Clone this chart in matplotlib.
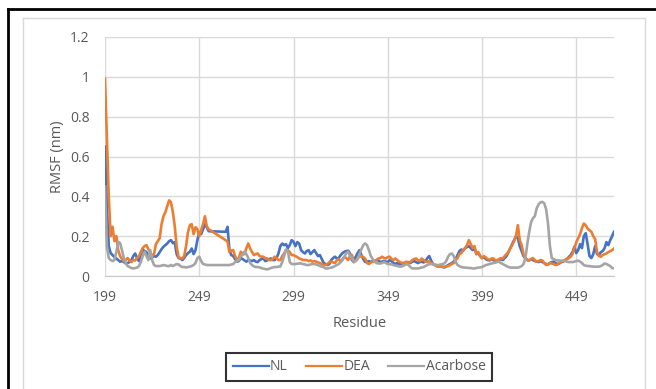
import matplotlib.pyplot as plt
from matplotlib.lines import Line2D

# residues 255-262 have no RMSF values, the lines just jump across
residues = list(range(199, 255)) + list(range(263, 470))

nl = [
    0.65, 0.35, 0.15, 0.115, 0.105, 0.095, 0.088, 0.08, 0.072, 0.075,
    0.07, 0.063, 0.065, 0.07, 0.08, 0.1, 0.113, 0.09, 0.075, 0.11,
    0.133, 0.125, 0.12, 0.1, 0.088, 0.095, 0.1, 0.097, 0.105, 0.12,
    0.135, 0.147, 0.155, 0.163, 0.175, 0.18, 0.165, 0.17, 0.11, 0.09,
    0.088, 0.08, 0.09, 0.105, 0.115, 0.122, 0.138, 0.11, 0.13, 0.18,
    0.22, 0.21, 0.235, 0.26, 0.245, 0.225,
    # 263-
    0.222, 0.247, 0.13, 0.105, 0.1, 0.085, 0.072, 0.075, 0.09, 0.085,
    0.078, 0.072, 0.08, 0.078, 0.075, 0.08, 0.072, 0.07, 0.08, 0.085,
    0.088, 0.075, 0.078, 0.085, 0.088, 0.08, 0.08, 0.09, 0.113, 0.15,
    0.163, 0.155, 0.16, 0.14, 0.155, 0.18, 0.172, 0.15, 0.17, 0.163,
    0.13, 0.12, 0.113, 0.125, 0.13, 0.11, 0.12, 0.13, 0.115, 0.1,
    0.105, 0.085, 0.065, 0.06, 0.055, 0.06, 0.08, 0.09, 0.097, 0.088,
    0.09, 0.105, 0.115, 0.122, 0.125, 0.127, 0.113, 0.08, 0.07, 0.097,
    0.115, 0.13, 0.105, 0.085, 0.07, 0.072, 0.075, 0.07, 0.075, 0.075,
    0.08, 0.078, 0.07, 0.072, 0.075, 0.072, 0.07, 0.08, 0.075, 0.065,
    0.06, 0.065, 0.06, 0.06, 0.065, 0.06, 0.065, 0.07, 0.065, 0.072,
    0.075, 0.07, 0.065, 0.07, 0.072, 0.068, 0.075, 0.09, 0.1, 0.077,
    0.06, 0.055, 0.05, 0.048, 0.047, 0.045, 0.043, 0.048, 0.055, 0.06,
    0.065, 0.072, 0.085, 0.105, 0.125, 0.133, 0.127, 0.14, 0.145, 0.15,
    0.14, 0.13, 0.14, 0.11, 0.115, 0.1, 0.09, 0.095, 0.085, 0.08,
    0.078, 0.085, 0.08, 0.075, 0.072, 0.08, 0.085, 0.08, 0.09, 0.1,
    0.12, 0.14, 0.16, 0.18, 0.2, 0.19, 0.15, 0.125, 0.1, 0.088,
    0.08, 0.078, 0.085, 0.08, 0.075, 0.072, 0.07, 0.075, 0.07, 0.065,
    0.06, 0.058, 0.065, 0.07, 0.072, 0.065, 0.06, 0.063, 0.07, 0.072,
    0.08, 0.085, 0.095, 0.105, 0.12, 0.147, 0.115, 0.13, 0.16, 0.14,
    0.2, 0.215, 0.16, 0.1, 0.09, 0.11, 0.15, 0.11, 0.105, 0.12,
    0.125, 0.14, 0.17, 0.155, 0.18, 0.2, 0.222,
]

dea = [
    0.99, 0.7, 0.4, 0.2, 0.247, 0.175, 0.2, 0.13, 0.1, 0.085,
    0.075, 0.08, 0.09, 0.078, 0.07, 0.08, 0.078, 0.09, 0.1, 0.12,
    0.14, 0.15, 0.155, 0.135, 0.12, 0.1, 0.11, 0.16, 0.175, 0.19,
    0.26, 0.3, 0.32, 0.35, 0.38, 0.37, 0.32, 0.25, 0.15, 0.095,
    0.09, 0.088, 0.1, 0.15, 0.22, 0.255, 0.26, 0.21, 0.245, 0.235,
    0.2, 0.23, 0.26, 0.3, 0.25, 0.235,
    # 263-
    0.18, 0.172, 0.12, 0.128, 0.13, 0.1, 0.08, 0.09, 0.122, 0.113,
    0.11, 0.14, 0.163, 0.138, 0.12, 0.105, 0.11, 0.113, 0.1, 0.097,
    0.097, 0.09, 0.088, 0.08, 0.08, 0.085, 0.097, 0.09, 0.08, 0.08,
    0.1, 0.113, 0.13, 0.13, 0.12, 0.105, 0.105, 0.1, 0.095, 0.088,
    0.085, 0.08, 0.08, 0.08, 0.075, 0.078, 0.072, 0.075, 0.072, 0.068,
    0.065, 0.06, 0.055, 0.055, 0.06, 0.07, 0.072, 0.068, 0.065, 0.08,
    0.085, 0.072, 0.085, 0.097, 0.09, 0.08, 0.1, 0.105, 0.07, 0.078,
    0.09, 0.097, 0.1, 0.095, 0.088, 0.065, 0.06, 0.068, 0.072, 0.075,
    0.08, 0.088, 0.09, 0.097, 0.09, 0.088, 0.095, 0.097, 0.085, 0.08,
    0.088, 0.08, 0.072, 0.068, 0.063, 0.068, 0.072, 0.065, 0.07, 0.08,
    0.085, 0.088, 0.08, 0.075, 0.088, 0.08, 0.072, 0.07, 0.075, 0.065,
    0.06, 0.055, 0.05, 0.048, 0.047, 0.047, 0.046, 0.048, 0.05, 0.055,
    0.06, 0.065, 0.08, 0.09, 0.11, 0.115, 0.13, 0.14, 0.155, 0.18,
    0.16, 0.14, 0.15, 0.11, 0.12, 0.1, 0.09, 0.1, 0.093, 0.085,
    0.08, 0.088, 0.088, 0.08, 0.08, 0.085, 0.09, 0.088, 0.1, 0.11,
    0.12, 0.14, 0.155, 0.175, 0.2, 0.255, 0.18, 0.155, 0.11, 0.09,
    0.08, 0.08, 0.085, 0.09, 0.08, 0.072, 0.075, 0.08, 0.078, 0.065,
    0.055, 0.06, 0.065, 0.063, 0.06, 0.055, 0.058, 0.065, 0.07, 0.075,
    0.08, 0.085, 0.09, 0.097, 0.11, 0.14, 0.17, 0.19, 0.21, 0.24,
    0.263, 0.255, 0.238, 0.23, 0.222, 0.2, 0.185, 0.12, 0.1, 0.097,
    0.105, 0.11, 0.113, 0.12, 0.125, 0.13, 0.138,
]

acarbose = [
    0.45, 0.15, 0.09, 0.08, 0.075, 0.08, 0.12, 0.172, 0.165, 0.13,
    0.09, 0.065, 0.05, 0.045, 0.04, 0.038, 0.04, 0.042, 0.05, 0.07,
    0.1, 0.122, 0.1, 0.08, 0.13, 0.08, 0.055, 0.05, 0.05, 0.05,
    0.052, 0.055, 0.053, 0.05, 0.05, 0.055, 0.05, 0.055, 0.06, 0.058,
    0.05, 0.045, 0.045, 0.043, 0.045, 0.047, 0.05, 0.055, 0.065, 0.09,
    0.097, 0.075, 0.06, 0.058, 0.055, 0.055,
    # 263-
    0.055, 0.055, 0.055, 0.058, 0.06, 0.07, 0.075, 0.08, 0.1, 0.105,
    0.122, 0.11, 0.09, 0.065, 0.055, 0.048, 0.045, 0.045, 0.043, 0.04,
    0.037, 0.035, 0.033, 0.036, 0.04, 0.043, 0.045, 0.045, 0.047, 0.048,
    0.07, 0.1, 0.133, 0.125, 0.07, 0.06, 0.06, 0.06, 0.062, 0.063,
    0.063, 0.06, 0.058, 0.055, 0.055, 0.058, 0.06, 0.06, 0.058, 0.055,
    0.05, 0.047, 0.045, 0.038, 0.038, 0.04, 0.042, 0.045, 0.05, 0.055,
    0.06, 0.07, 0.08, 0.097, 0.115, 0.122, 0.1, 0.09, 0.072, 0.075,
    0.085, 0.11, 0.135, 0.155, 0.163, 0.155, 0.13, 0.1, 0.085, 0.072,
    0.065, 0.063, 0.063, 0.065, 0.07, 0.065, 0.06, 0.06, 0.058, 0.055,
    0.052, 0.05, 0.048, 0.047, 0.05, 0.055, 0.06, 0.055, 0.045, 0.038,
    0.038, 0.038, 0.038, 0.04, 0.043, 0.045, 0.05, 0.055, 0.06, 0.06,
    0.06, 0.058, 0.055, 0.055, 0.058, 0.06, 0.063, 0.075, 0.097, 0.11,
    0.113, 0.1, 0.07, 0.055, 0.05, 0.045, 0.043, 0.042, 0.042, 0.04,
    0.04, 0.038, 0.038, 0.04, 0.042, 0.043, 0.045, 0.05, 0.055, 0.057,
    0.06, 0.063, 0.065, 0.067, 0.07, 0.072, 0.065, 0.06, 0.055, 0.05,
    0.045, 0.043, 0.042, 0.042, 0.042, 0.042, 0.045, 0.05, 0.06, 0.09,
    0.16, 0.22, 0.27, 0.29, 0.3, 0.34, 0.36, 0.37, 0.372, 0.365,
    0.335, 0.263, 0.15, 0.09, 0.085, 0.08, 0.078, 0.078, 0.077, 0.077,
    0.075, 0.072, 0.07, 0.07, 0.07, 0.072, 0.075, 0.077, 0.072, 0.065,
    0.055, 0.052, 0.05, 0.05, 0.048, 0.047, 0.047, 0.047, 0.047, 0.05,
    0.055, 0.063, 0.06, 0.055, 0.05, 0.04, 0.038,
]

assert len(nl) == len(dea) == len(acarbose) == len(residues)

x_ticks = [199, 249, 299, 349, 399, 449]
y_ticks = [0, 0.2, 0.4, 0.6, 0.8, 1.0, 1.2]
y_labels = ['0', '0.2', '0.4', '0.6', '0.8', '1', '1.2']

W, H = 656, 389
text_color = '#595959'
grid_color = '#D9D9D9'
plt.rcParams['font.family'] = ['Open Sans', 'DejaVu Sans']

fig = plt.figure(figsize=(W / 100, H / 100), dpi=100)


def px(x, y):
    # pixel position (from top left) to figure fraction
    return x / W, 1 - y / H


# outer black frame and light chart-area border
fig.add_artist(Line2D([8 / W, 8 / W], [0, px(0, 9)[1]], color='black', lw=2))
fig.add_artist(Line2D([8 / W, 1], [px(0, 9)[1]] * 2, color='black', lw=2))
for xs, ys in [([23, 23], [18, H]), ([23, 645], [18, 18]), ([645, 645], [18, H])]:
    fig.add_artist(Line2D([x / W for x in xs], [1 - y / H for y in ys], color=grid_color, lw=1))

left, top, right, bottom = 105, 37, 614, 276
ax = fig.add_axes([left / W, 1 - bottom / H, (right - left) / W, (bottom - top) / H])

ax.plot(residues, nl, color='#4472C4', lw=1.9, label='NL')
ax.plot(residues, dea, color='#ED7D31', lw=1.9, label='DEA')
ax.plot(residues, acarbose, color='#A5A5A5', lw=1.9, label='Acarbose')

ax.set_xlim(199, 469)
ax.set_ylim(0, 1.2)
ax.set_xticks(x_ticks)
ax.set_yticks(y_ticks)
ax.set_yticklabels(y_labels)
ax.grid(True, color=grid_color, lw=1)
ax.set_axisbelow(True)
for side in ['top', 'right', 'left']:
    ax.spines[side].set_visible(False)
ax.spines['bottom'].set_color('#C8C8C8')
ax.tick_params(length=0, labelsize=10, colors=text_color)
ax.tick_params(axis='x', pad=10)
ax.tick_params(axis='y', pad=11)

ax.set_xlabel('Residue', fontsize=10.5, color=text_color, labelpad=8)
ax.set_ylabel('RMSF (nm)', fontsize=10.5, color=text_color, labelpad=4)

leg = fig.legend(loc='center', bbox_to_anchor=px(359, 367), ncol=3, fontsize=10,
                 frameon=True, fancybox=False, edgecolor='black', handlelength=2.6,
                 handletextpad=0.1, columnspacing=1.3, borderpad=0.45)
leg.get_frame().set_linewidth(1.5)
for line in leg.get_lines():
    line.set_linewidth(1.6)
for t in leg.get_texts():
    t.set_color(text_color)

fig.savefig('out.png', dpi=100)
